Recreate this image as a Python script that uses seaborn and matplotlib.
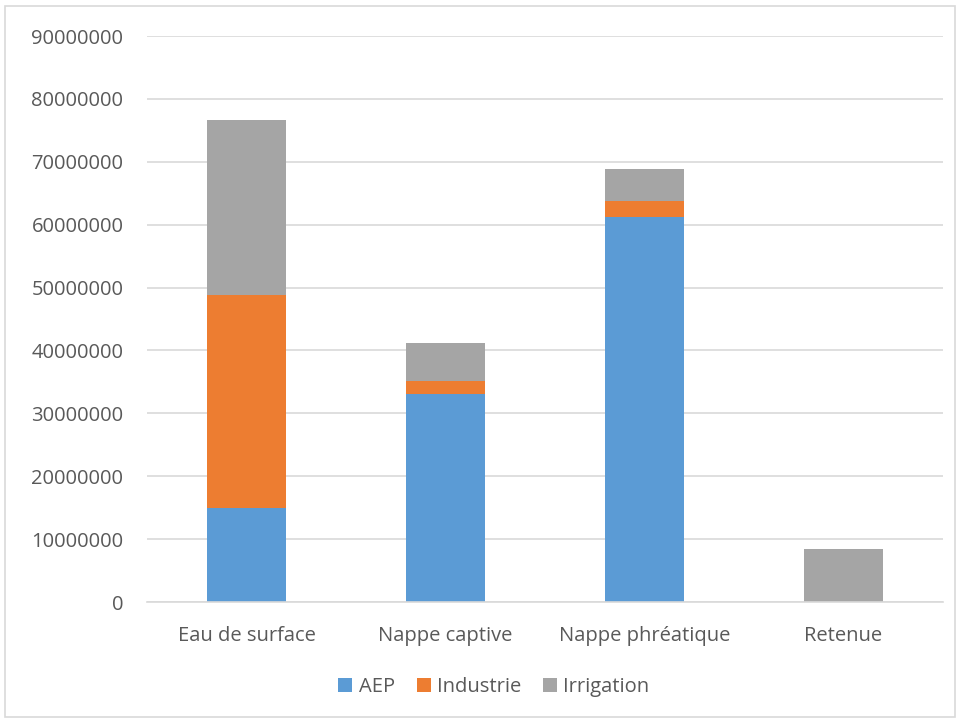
import matplotlib
matplotlib.use("Agg")
import matplotlib.pyplot as plt
import seaborn as sns
import pandas as pd
import numpy as np
from matplotlib.patches import Rectangle, Patch
from matplotlib.ticker import FuncFormatter

categories = ["Eau de surface", "Nappe captive", "Nappe phréatique", "Retenue"]
aep = [15000000, 33000000, 61200000, 0]
industrie = [33800000, 2200000, 2500000, 50000]
irrigation = [27900000, 6000000, 5100000, 8350000]
series_names = ["AEP", "Industrie", "Irrigation"]
colors = ["#5B9BD5", "#ED7D31", "#A5A5A5"]
yticks = [0, 10000000, 20000000, 30000000, 40000000, 50000000, 60000000, 70000000, 80000000, 90000000]

sns.set_theme(style="white")
plt.rcParams['font.family'] = ['Open Sans', 'DejaVu Sans']

fig = plt.figure(figsize=(9.6, 7.22), dpi=100)
ax = fig.add_axes([147/960, 1 - 602/722, (943-147)/960, (602-36)/722])

vals = np.array([aep, industrie, irrigation])
cum = vals.cumsum(axis=0)
# draw from top of stack down so lower segments cover upper ones
for i in reversed(range(3)):
    df = pd.DataFrame({"cat": categories, "val": cum[i]})
    sns.barplot(data=df, x="cat", y="val", color=colors[i], width=0.4,
                saturation=1, ax=ax, order=categories, edgecolor="none", linewidth=0)

ax.set_ylim(0, 90000000)
ax.set_xlim(-0.5, 3.5)
ax.set_yticks(yticks)
ax.yaxis.set_major_formatter(FuncFormatter(lambda v, p: f"{int(v)}"))
ax.grid(axis="y", color="#D9D9D9", linewidth=1.2)
ax.set_axisbelow(True)
for s in ["top", "right", "left"]:
    ax.spines[s].set_visible(False)
ax.spines["bottom"].set_color("#D9D9D9")
ax.spines["bottom"].set_linewidth(1.2)
ax.tick_params(axis="both", length=0, labelsize=14.5, colors="#595959")
ax.tick_params(axis="x", pad=17)
ax.tick_params(axis="y", pad=17)
ax.set_xlabel("")
ax.set_ylabel("")

handles = [Patch(facecolor=c, edgecolor="none") for c in colors]
fig.legend(handles, series_names, loc="center", bbox_to_anchor=(494/960, 1 - 687/722),
           ncol=3, frameon=False, fontsize=14.5, labelcolor="#595959",
           handlelength=0.7, handleheight=0.7, handletextpad=0.3, columnspacing=1.1)

fig.patches.append(Rectangle((5/960, 5/722), 950/960, 711/722, transform=fig.transFigure,
                             fill=False, edgecolor="#D9D9D9", linewidth=1.2))

fig.savefig("out.png", dpi=100, facecolor="white")
